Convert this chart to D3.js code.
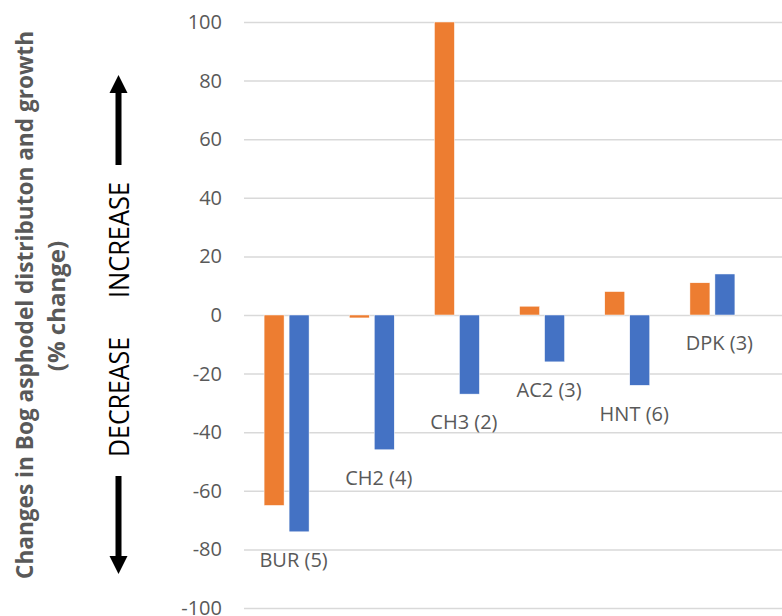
<!DOCTYPE html>
<html>
<head>
<meta charset="utf-8">
<script src="https://cdn.jsdelivr.net/npm/d3@7"></script>
<style>
  body { margin: 0; background: #fff; }
  svg { display: block; }
</style>
</head>
<body>
<svg width="782" height="616"></svg>
<script>
var sites = ["BUR (5)", "CH2 (4)", "CH3 (2)", "AC2 (3)", "HNT (6)", "DPK (3)"];
var distributionChange = [-65, -1, 100, 3, 8, 11];
var growthChange = [-74, -46, -27, -16, -24, 14];
var seriesNames = ["distribution", "growth"];
var seriesColors = ["#ED7D31", "#4472C4"];
var yTicks = [-100, -80, -60, -40, -20, 0, 20, 40, 60, 80, 100];

var svg = d3.select("svg");
var font = "'Open Sans', sans-serif";
var grey = "#595959";

var plotLeft = 244, plotRight = 755, gridRight = 782;
var plotTop = 22, plotBottom = 608;

var y = d3.scaleLinear().domain([-100, 100]).range([plotBottom, plotTop]);
var x0 = d3.scaleBand().domain(sites).range([plotLeft, plotRight]).padding(0);
var bw = x0.bandwidth();
var x1 = d3.scaleBand().domain(seriesNames)
    .range([(bw - 45) / 2, (bw + 45) / 2]).paddingInner(0.2);
var color = d3.scaleOrdinal().domain(seriesNames).range(seriesColors);

// gridlines + tick labels (plain hyphen for negatives, like the original)
var yAxis = svg.append("g")
    .attr("transform", "translate(" + plotLeft + ",0)")
    .call(d3.axisLeft(y).tickValues(yTicks)
      .tickFormat(function(d) { return String(d); })
      .tickSize(-(gridRight - plotLeft)).tickPadding(22));
yAxis.select(".domain").remove();
yAxis.selectAll(".tick line").attr("stroke", "#d9d9d9").attr("stroke-width", 1.5);
yAxis.selectAll(".tick text")
    .attr("fill", grey)
    .style("font-family", font)
    .style("font-size", "20px");

var rows = sites.map(function(s, i) {
  return { site: s, values: [
    { key: "distribution", value: distributionChange[i] },
    { key: "growth", value: growthChange[i] }
  ]};
});

var groups = svg.append("g").selectAll("g")
    .data(rows)
    .enter().append("g")
    .attr("transform", function(d) { return "translate(" + x0(d.site) + ",0)"; });

groups.selectAll("rect")
    .data(function(d) { return d.values; })
    .enter().append("rect")
    .attr("x", function(d) { return x1(d.key); })
    .attr("width", x1.bandwidth())
    .attr("y", function(d) { return y(Math.max(0, d.value)); })
    .attr("height", function(d) { return Math.abs(y(d.value) - y(0)); })
    .attr("fill", function(d) { return color(d.key); })
    .attr("stroke", "#fff")
    .attr("stroke-width", 0.5);

// site labels sit just below the lowest bar
groups.append("text")
    .attr("x", bw / 2 + 7)
    .attr("y", function(d) {
      var lo = d3.min(d.values, function(v) { return v.value; });
      return y(Math.min(0, lo)) + 30;
    })
    .attr("text-anchor", "middle")
    .attr("dominant-baseline", "middle")
    .attr("fill", grey)
    .style("font-family", font)
    .style("font-size", "20px")
    .text(function(d) { return d.site; });

// axis title
var title = svg.append("g")
    .attr("fill", grey)
    .style("font-family", font)
    .style("font-weight", "bold")
    .style("font-size", "24px");
title.append("text")
    .attr("transform", "translate(33,305) rotate(-90)")
    .attr("text-anchor", "middle")
    .attr("textLength", 548)
    .attr("lengthAdjust", "spacingAndGlyphs")
    .text("Changes in Bog asphodel distributon and growth");
title.append("text")
    .attr("transform", "translate(65,306) rotate(-90)")
    .attr("text-anchor", "middle")
    .text("(% change)");

// increase / decrease markers
var ax = 118.5;
var notes = svg.append("g")
    .attr("fill", "#000")
    .style("font-family", font)
    .style("font-size", "27px");
notes.append("text")
    .attr("transform", "translate(129,240) rotate(-90)")
    .attr("text-anchor", "middle")
    .attr("textLength", 116)
    .attr("lengthAdjust", "spacingAndGlyphs")
    .text("INCREASE");
notes.append("text")
    .attr("transform", "translate(129,397) rotate(-90)")
    .attr("text-anchor", "middle")
    .attr("textLength", 120)
    .attr("lengthAdjust", "spacingAndGlyphs")
    .text("DECREASE");

function arrow(yFrom, yTip) {
  var dir = yTip < yFrom ? -1 : 1;
  var headLen = 18, headHalf = 9, shaft = 3;
  var yBase = yTip - dir * headLen;
  var p = d3.path();
  p.moveTo(ax - shaft, yFrom);
  p.lineTo(ax - shaft, yBase);
  p.lineTo(ax - headHalf, yBase);
  p.lineTo(ax, yTip);
  p.lineTo(ax + headHalf, yBase);
  p.lineTo(ax + shaft, yBase);
  p.lineTo(ax + shaft, yFrom);
  p.closePath();
  svg.append("path").attr("d", p.toString()).attr("fill", "#000");
}
arrow(165, 75);
arrow(476, 574);
</script>
</body>
</html>
